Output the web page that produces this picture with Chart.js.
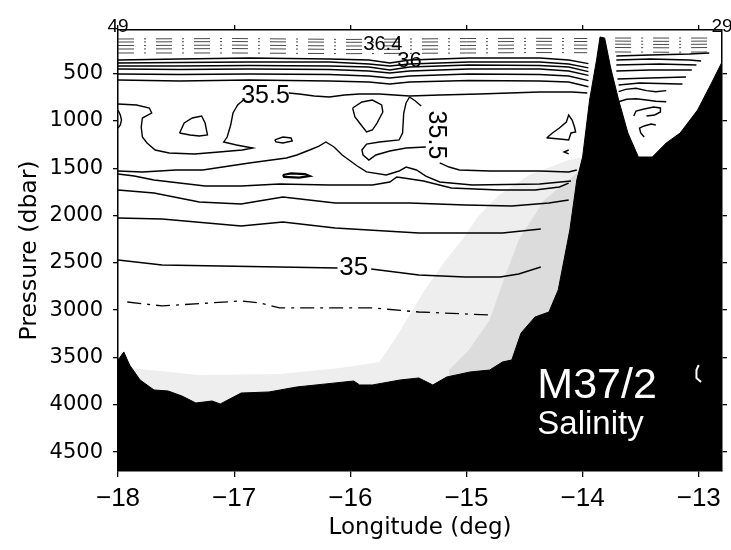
<!DOCTYPE html>
<html>
<head>
<meta charset="utf-8">
<script src="https://cdn.jsdelivr.net/npm/chart.js@4.4.1/dist/chart.umd.min.js"></script>
<style>
  html, body { margin: 0; padding: 0; background: #fff; }
  canvas { display: block; }
</style>
</head>
<body>
<canvas id="section" width="731" height="550"></canvas>
<script>
// ---- axes -------------------------------------------------------------
const lonRange = [-18, -12.8];
const pressureRange = [40, 4700];
const lonTicks = [-18, -17, -16, -15, -14, -13];
const pressureTicks = [500, 1000, 1500, 2000, 2500, 3000, 3500, 4000, 4500];
const stationLon = [-18, -12.8];
const stationNames = ['49', '29'];

// ---- seafloor (longitude, pressure) -------------------------------------
const seafloor = [[-18.00,3527],[-17.95,3442],[-17.90,3580],[-17.81,3738],[-17.69,3844],[-17.57,3854],
  [-17.45,3907],[-17.33,3981],[-17.26,3971],[-17.19,3960],[-17.12,3992],[-16.94,3876],[-16.70,3865],
  [-16.46,3812],[-16.21,3780],[-15.97,3749],[-15.92,3791],[-15.81,3791],[-15.57,3738],[-15.41,3717],
  [-15.29,3791],[-15.17,3707],[-14.97,3654],[-14.80,3633],[-14.69,3548],[-14.61,3527],[-14.53,3242],
  [-14.41,3073],[-14.29,3020],[-14.21,2787],[-14.11,2153],[-14.05,1625],[-14.00,1382],[-13.94,780],
  [-13.88,357],[-13.85,114],[-13.81,125],[-13.76,431],[-13.69,780],[-13.61,1128],[-13.52,1382],
  [-13.40,1382],[-13.28,1234],[-13.16,1128],[-13.01,885],[-12.89,600],[-12.80,378]];

// shaded water over the lower slope
const shadeOuter = [[-17.90,3611],[-17.30,3685],[-16.61,3675],[-16.09,3611],[-15.75,3548],[-15.62,3316],
  [-15.49,3051],[-15.36,2787],[-15.19,2491],[-15.04,2259],[-14.89,1995],[-14.72,1783],[-14.46,1572],
  [-14.12,1414],[-13.98,1380]];
const shadeInner = [[-15.15,3633],[-14.98,3421],[-14.80,3104],[-14.68,2682],[-14.55,2259],[-14.33,1836],
  [-14.07,1572],[-14.00,1500]];

// ---- near-surface isohalines (dash-dot) ------------------------------------
const surfWest1 = [[-18,135],[-17,130],[-16,140],[-15,130],[-14.4,128],[-13.96,130]];
const surfWest2 = [[-18,167],[-17,162],[-16,170],[-15,165],[-14.4,160],[-13.96,162]];
const surfWest3 = [[-18,204],[-17,200],[-16,209],[-15,204],[-14.4,198],[-13.96,200]];
const surfWest4 = [[-18,241],[-17,236],[-16,246],[-15,241],[-14.4,236],[-13.96,238]];
const surfWest5 = [[-18,283],[-17,283],[-16,290],[-15,283],[-14.4,278],[-13.96,280]];
const surfEast1 = [[-13.72,125],[-13.3,125],[-12.88,125]];
const surfEast2 = [[-13.72,157],[-13.3,160],[-12.88,157]];
const surfEast3 = [[-13.72,190],[-13.3,193],[-12.88,190]];
const surfEast4 = [[-13.72,225],[-13.3,228],[-12.88,225]];
const surfEast5 = [[-13.72,272],[-13.3,275],[-12.88,272]];

// ---- thermocline isohalines, western basin -----------------------------------
const thermoLon = [-18, -17.47, -16.87, -16.18, -15.84, -15.66, -15.49, -14.98, -14.37, -14.12, -13.95];
const thermo1 = [357, 346, 336, 346, 357, 389, 357, 336, 336, 357, 395];
const thermo2 = [389, 384, 378, 378, 399, 420, 399, 378, 378, 399, 440];
const thermo3 = [420, 420, 415, 420, 431, 463, 431, 410, 415, 431, 480];
const thermo4 = [452, 457, 452, 457, 473, 494, 473, 452, 452, 473, 520];
const thermo5 = [505, 510, 505, 510, 526, 547, 526, 505, 510, 526, 575];
const thermo6 = [568, 579, 568, 579, 589, 611, 589, 573, 579, 589, 640];

// ---- eastern trough isohalines ----------------------------------------------
const east1 = [[-13.71,315],[-13.42,304],[-13.08,294],[-12.91,283]];
const east2 = [[-13.71,357],[-13.42,346],[-13.08,357],[-12.98,368]];
const east3 = [[-13.71,410],[-13.34,399],[-13.02,410]];
const east4 = [[-13.71,473],[-13.42,463],[-13.06,463]];
const east5 = [[-13.70,558],[-13.42,547],[-13.11,537]];
const east6 = [[-13.69,621],[-13.51,600],[-13.17,611],[-13.14,611]];
const east7 = [[-13.69,692],[-13.63,667],[-13.54,656],[-13.45,681],[-13.37,692],[-13.28,681]];
const east8 = [[-13.69,798],[-13.62,772],[-13.54,766],[-13.45,780],[-13.37,793],[-13.28,798]];
const east9 = [[-13.56,949],[-13.54,896],[-13.47,875],[-13.39,854],[-13.33,864],[-13.33,906],[-13.38,938],[-13.45,949]];
const east10 = [[-13.37,1044],[-13.41,1033],[-13.47,1054],[-13.51,1076],[-13.50,1128],[-13.47,1171]];

// ---- 35.5 and deeper isohalines, western basin -----------------------------------
const s355West = [[-18.00,822],[-17.84,832],[-17.73,864],[-17.71,917],[-17.79,970],[-17.80,1065],[-17.79,1171],
  [-17.75,1234],[-17.68,1308],[-17.56,1340],[-17.34,1350],[-17.13,1329],[-16.93,1308],[-16.84,1287],
  [-16.98,1255],[-17.09,1223],[-17.06,1171],[-17.03,1044],[-17.01,917],[-16.97,832],[-16.92,780]];
const s355East = [[-16.53,706],[-16.44,716],[-16.31,737],[-16.18,748],[-16.05,727],[-15.92,716],[-15.75,716],
  [-15.62,727],[-15.49,737],[-15.23,727],[-14.89,716],[-14.63,706],[-14.37,695],[-14.09,695],[-13.96,706]];
const edgeArc = [[-18.00,885],[-17.98,938],[-17.97,991],[-17.98,1044],[-18.00,1076]];
const lensWest = [[-17.47,1128],[-17.43,1023],[-17.36,970],[-17.28,949],[-17.25,1023],[-17.23,1149],[-17.30,1160],[-17.38,1149],[-17.47,1128]];
const lensSmall = [[-16.65,1202],[-16.58,1171],[-16.51,1181],[-16.50,1213],[-16.58,1234],[-16.64,1223],[-16.65,1202]];
const lensMid = [[-15.98,864],[-15.90,801],[-15.81,780],[-15.73,832],[-15.72,906],[-15.77,1023],[-15.81,1097],[-15.86,1118],[-15.92,1023],[-15.96,959],[-15.98,864]];
const lensFlat = [[-16.58,1572],[-16.51,1556],[-16.39,1562],[-16.35,1583],[-16.44,1599],[-16.57,1593],[-16.58,1572]];
const lensSlope = [[-14.31,1181],[-14.26,1128],[-14.20,1076],[-14.14,1012],[-14.12,938],[-14.09,991],[-14.07,1065],[-14.06,1118],[-14.10,1128],[-14.12,1202],[-14.20,1192],[-14.29,1181],[-14.31,1181]];
const slopeTick = [[-14.12,1308],[-14.16,1329],[-14.12,1350]];
const hook = [[-15.35,1276],[-15.52,1287],[-15.66,1319],[-15.78,1361],[-15.84,1414],[-15.89,1361],[-15.90,1308],
  [-15.86,1245],[-15.75,1223],[-15.58,1202],[-15.55,1128],[-15.54,917],[-15.52,811],[-15.49,748]];
const s355UpperLeg = [[-15.49,748],[-15.44,790],[-15.39,843]];
const s355LowerLeg = [[-15.23,1445],[-15.15,1488],[-15.06,1519],[-14.80,1530],[-14.37,1530],[-14.12,1540],[-14.05,1519]];
const deep1 = [[-18.00,1530],[-17.79,1540],[-17.50,1519],[-17.27,1519],[-16.87,1445],[-16.55,1392],[-16.46,1361],
  [-16.35,1308],[-16.27,1266],[-16.21,1223],[-16.14,1276],[-16.07,1361],[-15.94,1477],[-15.86,1540],[-15.69,1572],
  [-15.58,1530],[-15.52,1488],[-15.43,1519],[-15.35,1583],[-15.23,1646],[-14.95,1678],[-14.37,1667],[-14.10,1636]];
const deep2 = [[-18.00,1562],[-17.86,1583],[-17.69,1625],[-17.25,1688],[-16.94,1688],[-16.61,1667],[-16.18,1678],
  [-15.81,1678],[-15.66,1646],[-15.60,1593],[-15.54,1604],[-15.37,1636],[-15.13,1709],[-14.72,1731],[-14.41,1731],
  [-14.20,1699],[-14.12,1657]];
const deep3 = [[-18.00,1731],[-17.69,1762],[-17.30,1857],[-16.94,1879],[-16.58,1805],[-16.13,1868],[-15.49,1868],
  [-15.01,1889],[-14.61,1900],[-14.29,1868],[-14.12,1836]];
const deep4 = [[-18.00,2026],[-17.62,2037],[-16.94,2111],[-16.58,2069],[-16.13,2132],[-15.41,2185],[-14.69,2185],[-14.36,2143]];
const s35West = [[-18.00,2470],[-17.62,2523],[-16.61,2544],[-16.11,2555]];
const s35East = [[-15.82,2565],[-15.41,2629],[-15.01,2650],[-14.71,2650],[-14.55,2618],[-14.36,2544]];
const deepDash = [[-17.92,2914],[-17.62,2956],[-16.94,2903],[-16.78,2924],[-16.61,2977],[-15.81,2977],[-15.41,3020],[-14.80,3051]];
const seafloorContour = [[-13.00,3580],[-13.02,3633],[-13.02,3717],[-12.98,3759]];

// ---- contour labels ----------------------------------------------------------
const labelText = ['36.4', '36', '35.5', '35.5', '35'];
const labelLon = [-15.72, -15.49, -16.73, -15.26, -15.97];
const labelP = [198, 368, 737, 1149, 2555];
const labelTurn = [0, 0, 0, 90, 0];

const panelTitle = 'M37/2';
const panelSubtitle = 'Salinity';
const panelLon = -14.39;
const panelTitleP = 3802;
const panelSubtitleP = 4214;

// ---- helpers -----------------------------------------------------------------
const pts = a => a.map(([x, y]) => ({ x, y }));
const zipP = (lons, ps) => lons.map((x, i) => ({ x, y: ps[i] }));
const minus = v => (v < 0 ? '\u2212' : '') + Math.abs(v);
const SANS = "'Liberation Sans', Arial, sans-serif";
const WIDE = "'DejaVu Sans', sans-serif";

const solid = (data, extra) => Object.assign({
  data, borderColor: '#000', borderWidth: 1.4, pointRadius: 0, tension: 0,
  fill: false, order: 10, xAxisID: 'x', yAxisID: 'y'
}, extra || {});
const dashDot = { borderDash: [16, 10, 2, 10], borderWidth: 0.9, borderColor: '#333' };

const datasets = [
  solid(pts(shadeOuter), { borderWidth: 0, borderColor: 'rgba(0,0,0,0)', backgroundColor: '#eeeeee', fill: { value: pressureRange[1] }, order: 40 }),
  solid(pts(shadeInner), { borderWidth: 0, borderColor: 'rgba(0,0,0,0)', backgroundColor: '#dcdcdc', fill: { value: pressureRange[1] }, order: 39 }),
  solid(pts(seafloor), { borderWidth: 1, backgroundColor: '#000', fill: { value: pressureRange[1] }, order: 30 }),
  solid(pts(seafloorContour), { borderColor: '#fff', borderWidth: 2, order: 5 }),

  ...[surfWest1, surfWest2, surfWest3, surfWest4, surfWest5,
      surfEast1, surfEast2, surfEast3, surfEast4, surfEast5].map(a => solid(pts(a), dashDot)),

  ...[thermo1, thermo2, thermo3, thermo4, thermo5, thermo6].map(p => solid(zipP(thermoLon, p))),

  ...[east1, east2, east3, east4, east5, east6, east7, east8, east9, east10].map(a => solid(pts(a))),

  ...[s355West, s355East, edgeArc, lensWest, lensSmall, lensMid, lensSlope, slopeTick, hook,
      s355UpperLeg, s355LowerLeg, deep1, deep2, deep3, deep4, s35West, s35East].map(a => solid(pts(a))),
  solid(pts(lensFlat), { borderWidth: 2.2 }),
  solid(pts(deepDash), { borderDash: [14, 6, 3, 6], borderWidth: 1.3 })
];

// contour labels, panel caption and station numbers
const textPlugin = {
  id: 'sectionText',
  afterDatasetsDraw(chart) {
    const { ctx, chartArea } = chart;
    const xs = chart.scales.x, ys = chart.scales.y;
    const labelFonts = ['20px ' + SANS, '22px ' + SANS, '25px ' + SANS, '25px ' + SANS, '26px ' + SANS];
    ctx.save();
    ctx.fillStyle = '#000';
    ctx.textAlign = 'center';
    ctx.textBaseline = 'middle';
    labelText.forEach((t, i) => {
      ctx.save();
      ctx.translate(xs.getPixelForValue(labelLon[i]), ys.getPixelForValue(labelP[i]));
      ctx.rotate(labelTurn[i] * Math.PI / 180);
      ctx.font = labelFonts[i];
      ctx.fillText(t, 0, 0);
      ctx.restore();
    });

    ctx.fillStyle = '#fff';
    ctx.textAlign = 'left';
    ctx.font = '43px ' + SANS;
    ctx.fillText(panelTitle, xs.getPixelForValue(panelLon), ys.getPixelForValue(panelTitleP));
    ctx.font = '33px ' + SANS;
    ctx.fillText(panelSubtitle, xs.getPixelForValue(panelLon), ys.getPixelForValue(panelSubtitleP));

    ctx.fillStyle = '#000';
    ctx.textAlign = 'center';
    ctx.textBaseline = 'alphabetic';
    ctx.font = '19px ' + SANS;
    stationNames.forEach((s, i) => ctx.fillText(s, xs.getPixelForValue(stationLon[i]), chartArea.top + 2));
    ctx.restore();
  }
};

const frame = { display: true, color: '#000', width: 1.5 };
const tickMarks = len => ({ drawOnChartArea: false, drawTicks: true, tickLength: len, color: '#000', lineWidth: 1.3 });
const setTicks = list => s => { s.ticks = list.map(value => ({ value })); };

Chart.defaults.color = '#000';
Chart.defaults.font.family = WIDE;
Chart.defaults.font.size = 20;

new Chart(document.getElementById('section'), {
  type: 'line',
  data: { datasets },
  options: {
    responsive: false,
    animation: false,
    events: [],
    layout: { padding: 0 },
    plugins: { legend: { display: false }, tooltip: { enabled: false } },
    scales: {
      x: {
        type: 'linear', axis: 'x', position: 'bottom', bounds: 'data',
        min: lonRange[0], max: lonRange[1],
        afterBuildTicks: setTicks(lonTicks),
        afterFit: s => { s.height = 79; },
        ticks: { font: { family: SANS, size: 26 }, color: '#000', padding: 6,
                 maxRotation: 0, autoSkip: false, callback: v => minus(v) },
        grid: tickMarks(6),
        border: frame,
        title: { display: true, text: 'Longitude (deg)', color: '#000',
                 font: { family: WIDE, size: 23 }, padding: { top: 0, bottom: 8 } }
      },
      xTop: {
        type: 'linear', axis: 'x', position: 'top', bounds: 'data',
        min: lonRange[0], max: lonRange[1],
        afterBuildTicks: setTicks(lonTicks),
        afterFit: s => { s.height = 30; },
        ticks: { display: false },
        grid: tickMarks(5),
        border: frame
      },
      y: {
        type: 'linear', axis: 'y', position: 'left', reverse: true, bounds: 'data',
        min: pressureRange[0], max: pressureRange[1],
        afterBuildTicks: setTicks(pressureTicks),
        afterFit: s => { s.width = 118; },
        ticks: { font: () => ({ family: WIDE, size: 21 }), color: '#000', padding: 10,
                 autoSkip: false, callback: v => String(v) },
        grid: tickMarks(5),
        border: frame,
        title: { display: true, text: 'Pressure (dbar)', color: '#000',
                 font: { family: WIDE, size: 23.5 }, padding: { top: 16, bottom: 0 } }
      },
      yRight: {
        type: 'linear', axis: 'y', position: 'right', reverse: true, bounds: 'data',
        min: pressureRange[0], max: pressureRange[1],
        afterBuildTicks: setTicks(pressureTicks),
        afterFit: s => { s.width = 9; },
        ticks: { display: false },
        grid: tickMarks(5),
        border: frame
      }
    }
  },
  plugins: [textPlugin]
});
</script>
</body>
</html>
